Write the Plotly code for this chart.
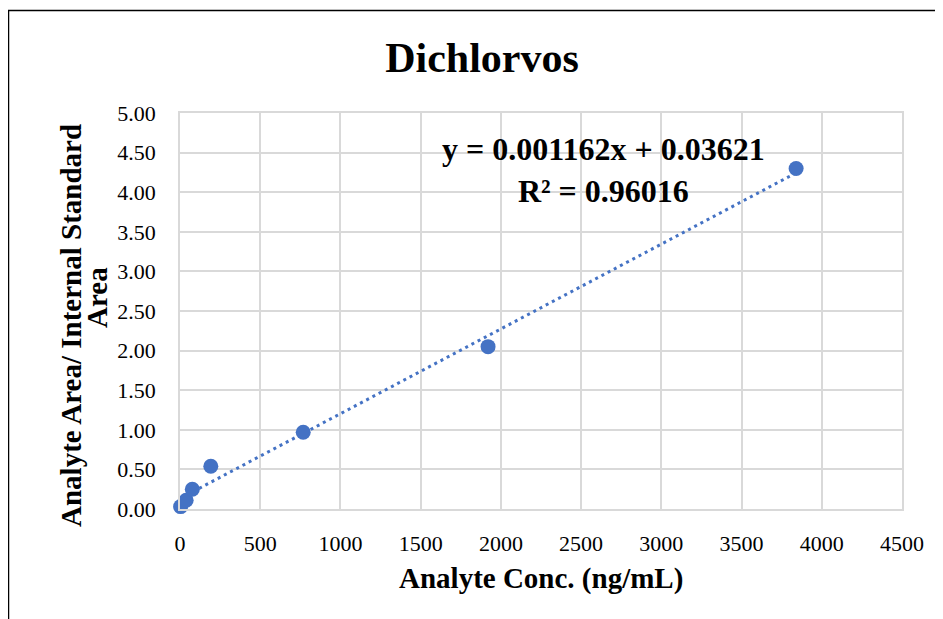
import numpy as np
import plotly.graph_objects as go

# calibration points
conc = [3.84, 38.4, 76.8, 192, 768, 1920, 3840]
ratio = [0.03, 0.11, 0.25, 0.54, 0.97, 2.05, 4.30]

eq_text = "y = 0.001162x + 0.03621<br>R² = 0.96016"
title_text = "Dichlorvos"
x_title = "Analyte Conc. (ng/mL)"
y_title_1 = "Analyte Area/ Internal Standard"
y_title_2 = "Area"

blue = "#4472C4"
grid = "#d9d9d9"
serif = "Times New Roman, Liberation Serif, serif"

# page has an 8px body margin, so work in picture pixels minus 8
off = 8
W, H = 943 - off, 619 - off
L, T = 180 - off, 113 - off
pw, ph = 902 - 180, 509 - 113
R, B = W - L - pw, H - T - ph


def px_x(p):
    return (p - off - L) / pw


def px_y(p):
    return (T + ph - (p - off)) / ph


# linear trendline fitted to the points
slope, icpt = np.polyfit(conc, ratio, 1)
tx = np.array([min(conc), max(conc)])
ty = slope * tx + icpt

fig = go.Figure()
fig.add_trace(go.Scatter(x=tx, y=ty, mode='lines',
                         line=dict(color=blue, width=3, dash='3px,4px'),
                         hoverinfo='skip', showlegend=False))
fig.add_trace(go.Scatter(x=conc, y=ratio, mode='markers', cliponaxis=False,
                         marker=dict(color=blue, size=15), showlegend=False))

fig.update_xaxes(range=[0, 4500], dtick=500, tick0=0, showgrid=True, gridcolor=grid, gridwidth=1.5,
                 showline=True, linecolor=grid, linewidth=1.5, mirror=True, zeroline=False,
                 ticks='', ticklabelstandoff=14, tickfont=dict(family=serif, size=22, color='black'))
fig.update_yaxes(range=[0, 5], dtick=0.5, tick0=0, tickformat='.2f', showgrid=True, gridcolor=grid,
                 gridwidth=1.5, showline=True, linecolor=grid, linewidth=1.5, mirror=True, zeroline=False,
                 ticks='', ticklabelstandoff=18, tickfont=dict(family=serif, size=22, color='black'))

fig.update_layout(autosize=False, width=W, height=H, margin=dict(l=L, r=R, t=T, b=B, pad=0),
                  plot_bgcolor='white', paper_bgcolor='white',
                  title=dict(text="<b>" + title_text + "</b>", xref='container', yref='container',
                             x=(482 - off) / W, y=1 - (57 - off) / H, xanchor='center', yanchor='middle',
                             font=dict(family=serif, size=42, color='black')))

fig.add_annotation(text="<b>" + x_title + "</b>", xref='paper', yref='paper', x=px_x(541),
                   y=px_y(578), showarrow=False, xanchor='center', yanchor='middle',
                   font=dict(family=serif, size=29, color='black'))
fig.add_annotation(text="<b>" + y_title_1 + "</b>", xref='paper', yref='paper', x=px_x(71),
                   y=px_y(326), textangle=-90, showarrow=False, xanchor='center', yanchor='middle',
                   font=dict(family=serif, size=29, color='black'))
fig.add_annotation(text="<b>" + y_title_2 + "</b>", xref='paper', yref='paper', x=px_x(97),
                   y=px_y(298), textangle=-90, showarrow=False, xanchor='center', yanchor='middle',
                   font=dict(family=serif, size=29, color='black'))
fig.add_annotation(text="<b>" + eq_text + "</b>", xref='paper', yref='paper', x=px_x(603),
                   y=px_y(170), showarrow=False, xanchor='center', yanchor='middle',
                   font=dict(family=serif, size=32, color='black'))

# chart border (runs past the right and bottom edges of the picture)
fig.add_shape(type='rect', xref='paper', yref='paper', x0=px_x(8.5), x1=1.3,
              y0=-0.5, y1=px_y(10.5), line=dict(color='black', width=1.5))

fig.write_html("out.html")
